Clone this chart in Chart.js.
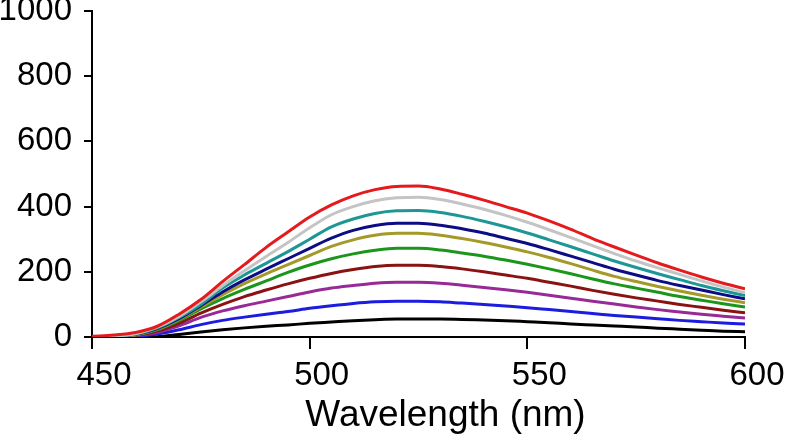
<!DOCTYPE html>
<html>
<head>
<meta charset="utf-8">
<script src="https://cdn.jsdelivr.net/npm/chart.js@4"></script>
<style>
  html, body { margin: 0; padding: 0; background: #fff; }
  #wrap { width: 787px; height: 442px; }
</style>
</head>
<body>
<div id="wrap"><canvas id="myChart" width="787" height="442"></canvas></div>
<script>
// wavelength grid (nm)
var wavelengths = [450, 455, 460, 465, 470, 475, 480, 485, 490, 495, 500, 505, 510, 515, 520,
  525, 530, 535, 540, 545, 550, 555, 560, 565, 570, 575, 580, 585, 590, 595, 600];

// emission intensities, top to bottom
var redSeries    = [2, 6, 14, 33, 70, 115, 170, 222, 275, 322, 368, 405, 433, 452, 462, 463, 454, 438, 420, 400, 380, 356, 330, 302, 276, 251, 227, 205, 184, 165, 148];
var graySeries   = [1, 3, 10, 30, 63, 108, 157, 203, 247, 290, 335, 375, 400, 418, 427, 429, 422, 408, 392, 373, 352, 329, 305, 280, 256, 233, 212, 192, 172, 153, 136];
var tealSeries   = [0, 2, 9, 28, 60, 100, 150, 190, 226, 262, 300, 338, 362, 379, 387, 388, 382, 370, 355, 338, 319, 298, 277, 255, 233, 213, 194, 176, 158, 142, 127];
var navySeries   = [0, 2, 8, 26, 56, 96, 138, 175, 208, 240, 272, 303, 327, 342, 349, 349, 343, 332, 319, 303, 287, 268, 248, 228, 208, 190, 173, 158, 144, 130, 117];
var oliveSeries  = [0, 2, 7, 24, 54, 92, 130, 164, 194, 222, 250, 278, 298, 312, 318, 318, 312, 302, 290, 276, 261, 244, 225, 205, 186, 170, 155, 141, 128, 116, 105];
var greenSeries  = [0, 1, 6, 22, 50, 86, 118, 146, 172, 198, 221, 240, 255, 266, 272, 272, 267, 258, 248, 236, 223, 209, 194, 178, 163, 150, 137, 124, 113, 102, 92];
var maroonSeries = [0, 1, 5, 18, 42, 73, 100, 124, 144, 163, 180, 195, 207, 216, 220, 220, 216, 209, 200, 190, 180, 168, 156, 143, 131, 120, 110, 100, 91, 82, 74];
var purpleSeries = [0, 1, 4, 14, 34, 60, 80, 96, 110, 124, 138, 150, 158, 165, 168, 168, 165, 159, 152, 145, 137, 128, 119, 110, 101, 92, 84, 77, 70, 64, 58];
var blueSeries   = [0, 0, 2, 9, 22, 38, 51, 61, 70, 78, 88, 96, 103, 108, 110, 110, 108, 104, 100, 95, 90, 84, 78, 72, 66, 61, 56, 51, 47, 43, 40];
var blackSeries  = [0, 0, 0, 1, 8, 15, 22, 28, 33, 37, 42, 46, 50, 53, 55, 55, 55, 54, 52, 50, 47, 44, 40, 37, 34, 31, 27, 24, 21, 18, 16];

var xTicks = [450, 500, 550, 600];
var yTicks = [0, 200, 400, 600, 800, 1000];
var xTitle = "Wavelength (nm)";

function pts(series) {
  return wavelengths.map(function (w, i) { return { x: w, y: series[i] }; });
}

function line(series, color) {
  return {
    data: pts(series),
    borderColor: color,
    backgroundColor: "transparent",
    borderWidth: 3,
    pointRadius: 0,
    cubicInterpolationMode: "monotone"
  };
}

// axis title sits a bit right of the plot centre in the original
var xTitlePlugin = {
  id: "xTitle",
  afterDraw: function (chart) {
    var c = chart.ctx;
    var area = chart.chartArea;
    c.save();
    c.fillStyle = "#000";
    c.font = "37px 'Liberation Sans', Arial, sans-serif";
    c.textAlign = "center";
    c.textBaseline = "alphabetic";
    c.fillText(xTitle, (area.left + area.right) / 2 + 27, 426);
    c.restore();
  }
};

document.addEventListener("DOMContentLoaded", function () {
  var ctx = document.getElementById("myChart").getContext("2d");
  var tickFont = { family: "Liberation Sans, Arial, sans-serif", size: 33 };
  new Chart(ctx, {
    type: "line",
    data: {
      datasets: [
        line(redSeries, "#e41a1c"),
        line(graySeries, "#c4c4c4"),
        line(tealSeries, "#1e9696"),
        line(navySeries, "#0c0c84"),
        line(oliveSeries, "#a39a2a"),
        line(greenSeries, "#1b961b"),
        line(maroonSeries, "#8a1212"),
        line(purpleSeries, "#982a98"),
        line(blueSeries, "#1c1ce0"),
        line(blackSeries, "#000000")
      ]
    },
    options: {
      responsive: false,
      animation: false,
      layout: { padding: { top: 11, right: 42, left: 0, bottom: 0 } },
      plugins: { legend: { display: false }, tooltip: { enabled: false } },
      scales: {
        x: {
          type: "linear",
          min: xTicks[0],
          max: xTicks[xTicks.length - 1],
          afterBuildTicks: function (s) { s.ticks = xTicks.map(function (v) { return { value: v }; }); },
          ticks: { color: "#000", font: tickFont, padding: 7, maxRotation: 0, labelOffset: 12,
            callback: function (v) { return String(v); } },
          grid: { drawOnChartArea: false, drawTicks: true, tickLength: 12, color: "#000", lineWidth: 2 },
          border: { color: "#000", width: 2 },
          afterFit: function (s) { s.height = 105; }
        },
        y: {
          min: 0,
          max: 1000,
          afterBuildTicks: function (s) { s.ticks = yTicks.map(function (v) { return { value: v }; }); },
          ticks: { color: "#000", font: tickFont, padding: 12,
            callback: function (v) { return String(v); } },
          grid: { drawOnChartArea: false, drawTicks: true, tickLength: 8, color: "#000", lineWidth: 2 },
          border: { color: "#000", width: 2 },
          afterFit: function (s) { s.width = 92; s.paddingTop = 0; }
        }
      }
    },
    plugins: [xTitlePlugin]
  });
});
</script>
</body>
</html>
